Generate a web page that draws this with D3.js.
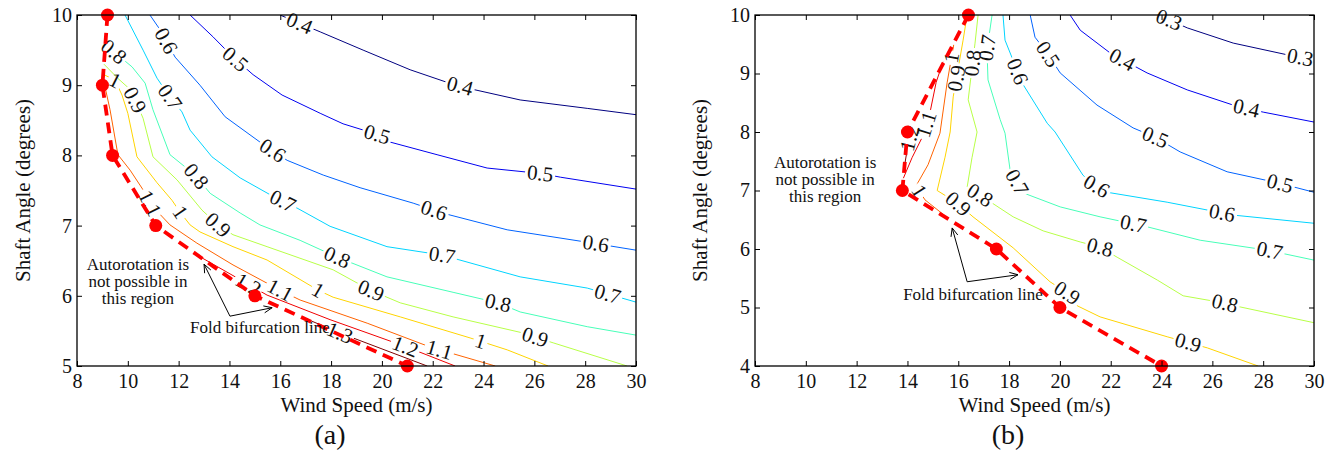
<!DOCTYPE html>
<html><head><meta charset="utf-8">
<script src="https://cdn.jsdelivr.net/npm/d3@7"></script>
<style>
body{margin:0;background:#fff}
svg text{font-family:"Liberation Serif","Times New Roman",serif;fill:#111}
</style>
</head><body>
<svg id="c" width="1338" height="455"></svg>
<script>
// ---------------- DATA ----------------
const xTicks = [8,10,12,14,16,18,20,22,24,26,28,30];
const yTicksA = [5,6,7,8,9,10];
const yTicksB = [4,5,6,7,8,9,10];
const levelsA = [0.4,0.5,0.6,0.7,0.8,0.9,1,1.1,1.2,1.3];
const levelsB = [0.3,0.4,0.5,0.6,0.7,0.8,0.9,1,1.1,1.2];

// panel (a) contour lines [wind speed, shaft angle]
const a04 = [[15.99,10],[16.78,9.88],[17.57,9.76],[19.26,9.5],[21.11,9.22],[22.57,9.04],[23.59,8.94],[25.44,8.79],[28.08,8.67],[30,8.58]];
const a05 = [[12.45,10],[13.35,9.69],[14.14,9.40],[14.93,9.15],[16.07,8.86],[17.57,8.60],[18.47,8.45],[19.81,8.30],[20.32,8.19],[22.17,8.01],[24.14,7.82],[26.31,7.74],[27.02,7.69],[30,7.52]];
const a06 = [[10.87,10],[11.27,9.79],[11.86,9.40],[12.84,9.0],[13.83,8.55],[15.2,8.19],[16.27,7.93],[17.69,7.72],[19.14,7.54],[21.23,7.32],[22.37,7.18],[24.93,6.94],[28.31,6.75],[30,6.65]];
const a07 = [[9.89,10],[10.6,9.5],[11.15,9.10],[11.66,8.83],[12.13,8.62],[12.45,8.36],[13.31,7.98],[14.42,7.68],[15.6,7.44],[16.66,7.25],[17.96,6.99],[20.2,6.70],[22.37,6.58],[25.44,6.27],[28.08,6.11],[30,5.91]];
const a08 = [[9.14,9.57],[10.17,9.26],[10.68,9.03],[10.99,8.65],[11.66,8.01],[12.65,7.72],[13.24,7.46],[14.42,7.18],[15.2,7.01],[16.78,6.79],[18.24,6.55],[20.2,6.27],[22.8,6.05],[24.57,5.9],[25.44,5.77],[28.08,5.56],[30,5.44]];
const a09 = [[9.06,9.3],[9.6,9.1],[10.06,8.95],[10.3,8.78],[10.6,8.53],[10.99,7.98],[11.94,7.65],[12.92,7.22],[13.55,7.01],[14.14,6.87],[15.48,6.70],[18.08,6.37],[19.54,6.08],[20.72,5.90],[22.8,5.70],[25.44,5.48],[26.74,5.33],[29.65,5.0]];
const a10 = [[9.06,9.15],[9.5,9.07],[9.77,8.86],[10.0,8.60],[10.36,7.98],[11.15,7.61],[11.74,7.36],[12.06,7.19],[12.45,7.01],[12.84,6.91],[14.14,6.70],[15.48,6.51],[17.49,6.08],[18.08,5.98],[20.72,5.70],[23.47,5.40],[24.93,5.23],[26.54,5.0]];
const a11 = [[9.1,8.98],[9.3,8.65],[9.61,8.01],[10.09,7.79],[10.6,7.51],[10.87,7.32],[11.19,7.19],[11.66,7.01],[12.72,6.75],[14.14,6.44],[15.99,6.08],[16.78,5.94],[19.42,5.61],[21.9,5.27],[24.46,5.0]];
const a12 = [[12.92,6.54],[14.42,6.23],[15.48,6.01],[17.96,5.66],[20.91,5.28],[22.88,5.0]];
const a13 = [[17.1,5.66],[18.35,5.47],[21.78,5.0]];
const contoursA = [a04,a05,a06,a07,a08,a09,a10,a11,a12,a13];

// panel (b) contour lines
const b03 = [[23.83,10],[24.34,9.91],[25.01,9.78],[26.82,9.52],[28.94,9.32],[30,9.23]];
const b04 = [[20.4,10],[20.8,9.74],[21.98,9.35],[22.49,9.23],[23.43,9.01],[25.01,8.72],[26.82,8.46],[28.0,8.34],[30,8.17]];
const b05 = [[18.83,10],[19.02,9.62],[19.5,9.35],[20.01,9.01],[21.46,8.46],[22.88,8.07],[23.75,7.91],[24.73,7.66],[26.58,7.32],[28.59,7.13],[30,6.97]];
const b06 = [[17.76,10],[17.84,9.57],[18.31,9.06],[18.51,8.84],[19.5,8.15],[19.81,8.0],[20.91,7.26],[21.39,7.09],[21.86,6.97],[24.22,6.8],[26.82,6.58],[30,6.44]];
const b07 = [[17.33,10],[17.13,9.4],[17.17,8.89],[17.65,8.21],[17.84,7.98],[18.04,7.35],[18.55,6.96],[20.01,6.72],[21.58,6.55],[23.43,6.38],[25.52,6.15],[28.16,5.98],[30,5.81]];
const b08 = [[16.78,10],[16.66,9.52],[16.39,8.55],[16.74,8.0],[16.54,7.56],[16.35,7.06],[16.86,6.92],[18.16,6.55],[19.34,6.31],[20.8,6.12],[21.58,6.03],[22.25,5.86],[23.83,5.47],[24.85,5.2],[26.43,5.08],[27.09,5.01],[30,4.74]];
const b09 = [[16.35,10],[16.19,9.57],[15.8,8.6],[15.68,8.0],[15.48,7.57],[15.17,7.0],[15.95,6.79],[16.58,6.55],[18.16,6.02],[19.61,5.44],[20.28,5.25],[20.68,5.03],[21.58,4.84],[24.22,4.5],[25.8,4.31],[27.8,4.0]];
const b10 = [[15.82,9.49],[15.56,8.84],[15.28,7.98],[14.81,7.44],[14.34,7.08],[14.69,6.84],[15.5,6.56]];
const b11 = [[13.84,7.21],[14.18,7.56],[14.57,7.9],[14.89,8.34],[15.13,8.85],[15.4,9.2]];
const b12 = [[13.87,7.38],[14.02,7.78],[14.22,8.12]];
const contoursB = [b03,b04,b05,b06,b07,b08,b09,b10,b11,b12];

// contour label anchors [level, wind speed, shaft angle]
const labelsA = [[0.4,16.78,9.9],[0.4,23.08,9.0],[0.5,14.3,9.4],[0.5,19.81,8.3],[0.5,26.23,7.75],
 [0.6,11.46,9.62],[0.6,15.72,8.08],[0.6,22.09,7.26],[0.6,28.43,6.77],
 [0.7,11.66,8.83],[0.7,16.11,7.36],[0.7,22.37,6.58],[0.7,28.87,6.01],
 [0.8,9.77,9.62],[0.8,12.65,7.69],[0.8,18.24,6.55],[0.8,24.57,5.9],
 [0.9,10.28,8.79],[0.9,13.55,7.01],[0.9,19.54,6.05],[0.9,26.03,5.41],
 [1,9.5,9.07],[1,12.06,7.19],[1,17.49,6.08],[1,23.87,5.34],
 [1.1,10.87,7.32],[1.1,15.99,6.08],[1.1,22.29,5.27],
 [1.2,14.69,6.13],[1.2,20.91,5.27],[1.3,18.35,5.48]];
const labelsB = [[0.3,24.26,9.88],[0.3,29.46,9.28],[0.4,22.45,9.23],[0.4,27.37,8.46],
 [0.5,19.5,9.32],[0.5,23.75,7.91],[0.5,28.67,7.13],
 [0.6,18.31,9.03],[0.6,21.46,7.09],[0.6,26.39,6.63],
 [0.7,17.13,9.44],[0.7,18.35,7.15],[0.7,22.88,6.41],[0.7,28.28,6.02],
 [0.8,16.54,9.18],[0.8,16.86,6.92],[0.8,21.58,6.03],[0.8,26.5,5.09],
 [0.9,15.91,8.92],[0.9,15.95,6.75],[0.9,20.28,5.25],[0.9,25.05,4.41],
 [1,15.6,9.28],[1,14.38,6.97],[1.1,14.81,8.12],[1.2,13.98,7.91]];

// fold bifurcation lines
const foldA = [[9.2,10],[9,9],[9.4,8],[11.1,7],[15,6],[21,5]];
const foldB = [[16.4,10],[14,8],[13.8,7],[17.5,6],[20,5],[24,4]];

// text
const regionText = ["Autorotation is","not possible in","this region"];
const foldText = "Fold bifurcation line";
const xTitle = "Wind Speed (m/s)";
const yTitle = "Shaft Angle (degrees)";

// ---------------- STYLE ----------------
const palette = ['#000080','#0000f0','#0063ff','#00d4ff','#47ffb8','#b8ff47','#ffd400','#ff6300','#f00000','#800000'];

const svg = d3.select('#c');
const defs = svg.append('defs');

function drawPanel(cfg){
  const x = d3.scaleLinear().domain([8,30]).range([cfg.x0,cfg.x1]);
  const y = d3.scaleLinear().domain(cfg.yDom).range([cfg.y1,cfg.y0]);
  const g = svg.append('g');
  const clipId = 'clip'+cfg.id;
  defs.append('clipPath').attr('id',clipId).append('rect')
    .attr('x',cfg.x0).attr('y',cfg.y0).attr('width',cfg.x1-cfg.x0).attr('height',cfg.y1-cfg.y0);

  const line = d3.line().x(d=>x(d[0])).y(d=>y(d[1]));
  const cg = g.append('g').attr('clip-path',`url(#${clipId})`);
  const lg = g.append('g');

  const gaps = cfg.levels.map(()=>[]);
  cfg.labels.forEach(([lev,lx,ly])=>{
    const k = cfg.levels.findIndex(v=>Math.abs(v-lev)<1e-6);
    const pts = cfg.contours[k].map(p=>[x(p[0]),y(p[1])]);
    const px=x(lx), py=y(ly);
    let best=null;
    for(let i=0;i<pts.length-1;i++){
      const a=pts[i], b=pts[i+1];
      const dx=b[0]-a[0], dy=b[1]-a[1];
      let t=((px-a[0])*dx+(py-a[1])*dy)/(dx*dx+dy*dy);
      t=Math.max(0,Math.min(1,t));
      const cx=a[0]+t*dx, cy=a[1]+t*dy;
      const d=(cx-px)**2+(cy-py)**2;
      if(!best||d<best.d) best={d,cx,cy,ang:Math.atan2(dy,dx)*180/Math.PI};
    }
    let ang=best.ang;
    if(ang>90) ang-=180;
    if(ang<-90) ang+=180;
    const t = lg.append('text')
      .attr('transform',`translate(${best.cx},${best.cy}) rotate(${ang})`)
      .attr('text-anchor','middle').attr('dominant-baseline','central')
      .style('font-size','21px').text(String(lev));
    const w = t.node().getComputedTextLength();
    gaps[k].push({cx:best.cx,cy:best.cy,ang,w});
  });

  cfg.contours.forEach((c,k)=>{
    const mid='mask'+cfg.id+k;
    const m = defs.append('mask').attr('id',mid).attr('maskUnits','userSpaceOnUse')
      .attr('x',0).attr('y',0).attr('width',1338).attr('height',455);
    m.append('rect').attr('x',0).attr('y',0).attr('width',1338).attr('height',455).attr('fill','#fff');
    gaps[k].forEach(gp=>{
      m.append('rect').attr('x',-gp.w/2-2).attr('y',-8).attr('width',gp.w+4).attr('height',16)
        .attr('fill','#000').attr('transform',`translate(${gp.cx},${gp.cy}) rotate(${gp.ang})`);
    });
    cg.append('path').datum(c).attr('d',line).attr('fill','none')
      .attr('stroke',palette[k]).attr('stroke-width',1).attr('mask',`url(#${mid})`);
  });
  lg.raise();

  // fold line
  const fg = g.append('g');
  fg.append('path').datum(cfg.fold).attr('d',line).attr('fill','none')
    .attr('stroke','#ff0000').attr('stroke-width',3.8).attr('stroke-dasharray','11,7');
  fg.selectAll('circle').data(cfg.fold).join('circle')
    .attr('cx',d=>x(d[0])).attr('cy',d=>y(d[1])).attr('r',6.5).attr('fill','#ff0000');

  // annotations
  const rt = g.append('text').attr('text-anchor','middle').style('font-size','17px');
  regionText.forEach((s,i)=>{
    rt.append('tspan').attr('x',x(cfg.regX)).attr('y',y(cfg.regY)+i*17).text(s);
  });
  g.append('text').attr('x',x(cfg.foldX)).attr('y',y(cfg.foldY)).style('font-size','17px').text(foldText);
  const vx=x(cfg.arrV[0]), vy=y(cfg.arrV[1]);
  [cfg.arrT1,cfg.arrT2].forEach(tp=>{
    const tx=x(tp[0]), ty=y(tp[1]);
    g.append('line').attr('x1',vx).attr('y1',vy).attr('x2',tx).attr('y2',ty)
      .attr('stroke','#000').attr('stroke-width',1);
    const a=Math.atan2(vy-ty,vx-tx);
    [0.4,-0.4].forEach(da=>{
      g.append('line').attr('x1',tx).attr('y1',ty)
        .attr('x2',tx+9*Math.cos(a+da)).attr('y2',ty+9*Math.sin(a+da))
        .attr('stroke','#000').attr('stroke-width',1);
    });
  });

  // axes
  const style = sel=>{
    sel.selectAll('text').style('font-size','20px').attr('fill','#111')
      .style('font-family','"Liberation Serif","Times New Roman",serif');
    sel.select('.domain').remove();
    sel.selectAll('.tick line').attr('stroke','#000');
  };
  g.append('g').attr('transform',`translate(0,${cfg.y1})`)
    .call(d3.axisBottom(x).tickValues(xTicks).tickFormat(d3.format('d')).tickSizeInner(-5).tickSizeOuter(0).tickPadding(8)).call(style);
  g.append('g').attr('transform',`translate(0,${cfg.y0})`)
    .call(d3.axisTop(x).tickValues(xTicks).tickFormat('').tickSizeInner(-5).tickSizeOuter(0)).call(style);
  g.append('g').attr('transform',`translate(${cfg.x0},0)`)
    .call(d3.axisLeft(y).tickValues(cfg.yTicks).tickFormat(d3.format('d')).tickSizeInner(-5).tickSizeOuter(0).tickPadding(5)).call(style);
  g.append('g').attr('transform',`translate(${cfg.x1},0)`)
    .call(d3.axisRight(y).tickValues(cfg.yTicks).tickFormat('').tickSizeInner(-5).tickSizeOuter(0)).call(style);
  g.append('rect').attr('x',cfg.x0).attr('y',cfg.y0).attr('width',cfg.x1-cfg.x0).attr('height',cfg.y1-cfg.y0)
    .attr('fill','none').attr('stroke','#000').attr('stroke-width',1.3);

  // titles
  g.append('text').attr('x',(cfg.x0+cfg.x1)/2).attr('y',412).attr('text-anchor','middle')
    .style('font-size','21px').text(xTitle);
  g.append('text').attr('transform',`translate(${cfg.yTitleX},${(cfg.y0+cfg.y1)/2}) rotate(-90)`)
    .attr('text-anchor','middle').style('font-size','21px').text(yTitle);
  g.append('text').attr('x',cfg.letterX).attr('y',444).attr('text-anchor','middle')
    .style('font-size','28px').text(cfg.letter);
}

drawPanel({id:'A',x0:77,x1:636,y0:15,y1:366,yDom:[5,10],yTicks:yTicksA,
  levels:levelsA,contours:contoursA,labels:labelsA,fold:foldA,
  regX:10.4,regY:6.37,foldX:12.45,foldY:5.47,arrV:[14.02,5.71],arrT1:[13.0,6.45],arrT2:[15.68,5.83],
  yTitleX:30,letter:'(a)',letterX:330});
drawPanel({id:'B',x0:755,x1:1314,y0:15,y1:366,yDom:[4,10],yTicks:yTicksB,
  levels:levelsB,contours:contoursB,labels:labelsB,fold:foldB,
  regX:10.76,regY:7.38,foldX:13.83,foldY:5.13,arrV:[16.35,5.44],arrT1:[15.76,6.36],arrT2:[18.35,5.56],
  yTitleX:707,letter:'(b)',letterX:1008});
</script>
</body></html>
